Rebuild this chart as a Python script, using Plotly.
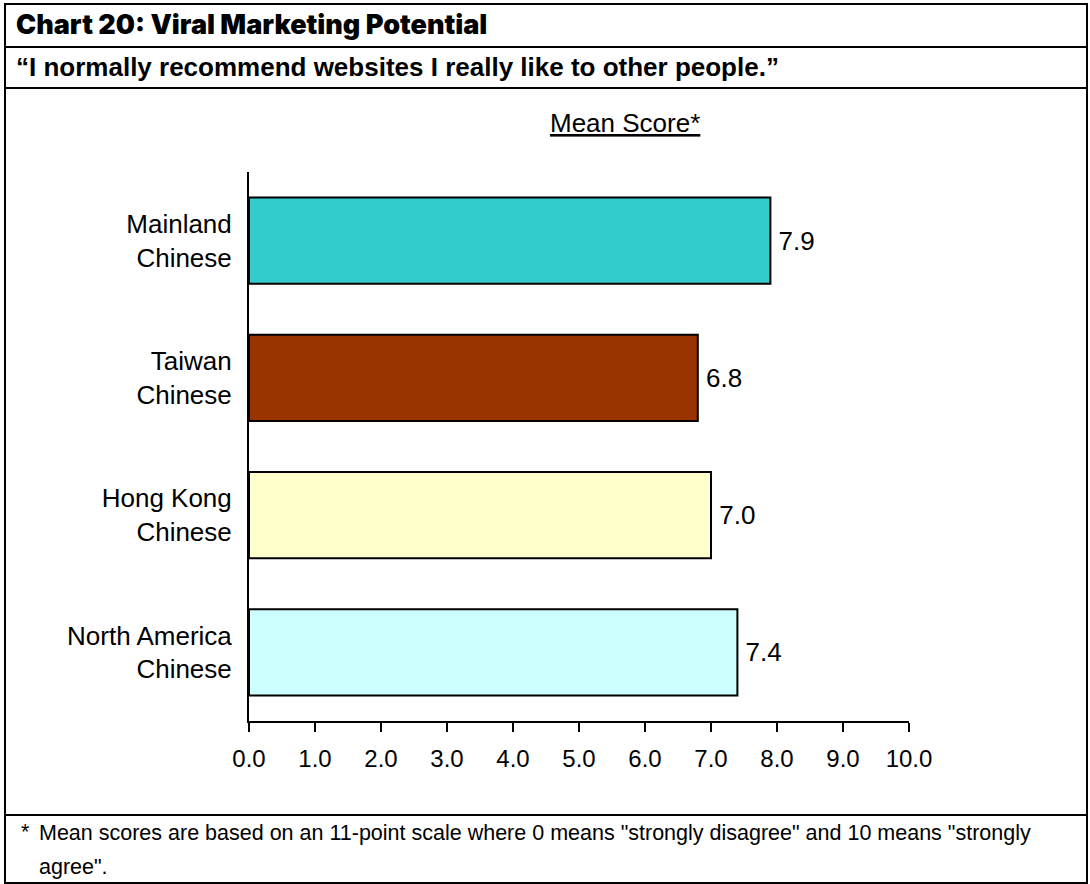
import plotly.graph_objects as go

# Survey data: mean agreement score by group
groups = ["Mainland<br>Chinese", "Taiwan<br>Chinese", "Hong Kong<br>Chinese", "North America<br>Chinese"]
scores = [7.9, 6.8, 7.0, 7.4]
bar_colors = ["#33CCCC", "#993300", "#FFFFCC", "#CCFFFF"]
x_ticks = [0, 1, 2, 3, 4, 5, 6, 7, 8, 9, 10]

title_text = "Chart 20: Viral Marketing Potential"
question_text = "\u201cI normally recommend websites I really like to other people.\u201d"
axis_caption = "<u>Mean Score*</u>"
note_line1 = "Mean scores are based on an 11-point scale where 0 means \"strongly disagree\" and 10 means \"strongly"
note_line2 = "agree\"."

W, H = 1090, 884
PL, PR, PT, PB = 249, 909, 172, 721  # plot-area edges in pixels


def px(x):
    return (x - PL) / (PR - PL)


def py(y):
    return (PB - y) / (PB - PT)


FONT = "Liberation Sans, Arial, sans-serif"

fig = go.Figure()
fig.add_trace(go.Bar(
    x=scores,
    y=groups,
    orientation="h",
    width=0.627,
    marker=dict(color=bar_colors, line=dict(color="black", width=2)),
    text=[f"\u2009{v:.1f}" for v in scores],
    textposition="outside",
    textangle=0,
    textfont=dict(family=FONT, size=26, color="black"),
    cliponaxis=False,
    hoverinfo="skip",
))

shapes = []
# outer frame and row separators
shapes.append(dict(type="rect", xref="paper", yref="paper",
                   x0=px(5), x1=px(1087), y0=py(4), y1=py(883),
                   line=dict(color="black", width=2), fillcolor="rgba(0,0,0,0)", layer="above"))
for yy in (47, 88, 815):
    shapes.append(dict(type="line", xref="paper", yref="paper",
                       x0=px(5), x1=px(1087), y0=py(yy), y1=py(yy),
                       line=dict(color="black", width=2)))

annotations = [
    dict(text=title_text, x=px(14), y=py(25), xref="paper", yref="paper",
         xanchor="left", yanchor="middle", showarrow=False,
         font=dict(family="Inter, DejaVu Sans, sans-serif", size=27, weight=900, color="black")),
    dict(text=f"<b>{question_text}</b>", x=px(14), y=py(67), xref="paper", yref="paper",
         xanchor="left", yanchor="middle", showarrow=False,
         font=dict(family=FONT, size=26, color="black")),
    dict(text=axis_caption, x=px(625), y=py(123), xref="paper", yref="paper",
         xanchor="center", yanchor="middle", showarrow=False,
         font=dict(family=FONT, size=26, color="black")),
    dict(text="*", x=px(19), y=py(832), xref="paper", yref="paper",
         xanchor="left", yanchor="middle", showarrow=False,
         font=dict(family=FONT, size=21.5, color="black")),
    dict(text=note_line1, x=px(37), y=py(833), xref="paper", yref="paper",
         xanchor="left", yanchor="middle", showarrow=False,
         font=dict(family=FONT, size=21.5, color="black")),
    dict(text=note_line2, x=px(37), y=py(867), xref="paper", yref="paper",
         xanchor="left", yanchor="middle", showarrow=False,
         font=dict(family=FONT, size=21.5, color="black")),
]

fig.update_layout(
    width=W, height=H, autosize=False,
    margin=dict(l=PL, r=W - PR, t=PT, b=H - PB, pad=0),
    paper_bgcolor="white", plot_bgcolor="white",
    showlegend=False,
    shapes=shapes,
    annotations=annotations,
    font=dict(family=FONT, color="black"),
    xaxis=dict(
        range=[0, 10], tickvals=x_ticks, ticktext=[f"{v:.1f}" for v in x_ticks],
        showgrid=False, zeroline=False,
        showline=True, linecolor="black", linewidth=2,
        ticks="outside", ticklen=9, tickwidth=2, tickcolor="black",
        ticklabelstandoff=6,
        tickfont=dict(family=FONT, size=24, color="black"),
        fixedrange=True,
    ),
    yaxis=dict(
        categoryorder="array", categoryarray=groups, autorange="reversed",
        showgrid=False, zeroline=False,
        showline=True, linecolor="black", linewidth=2,
        ticks="", ticklabelstandoff=10,
        tickfont=dict(family=FONT, size=26, color="black"),
        fixedrange=True,
    ),
)

fig.write_html("out.html")
